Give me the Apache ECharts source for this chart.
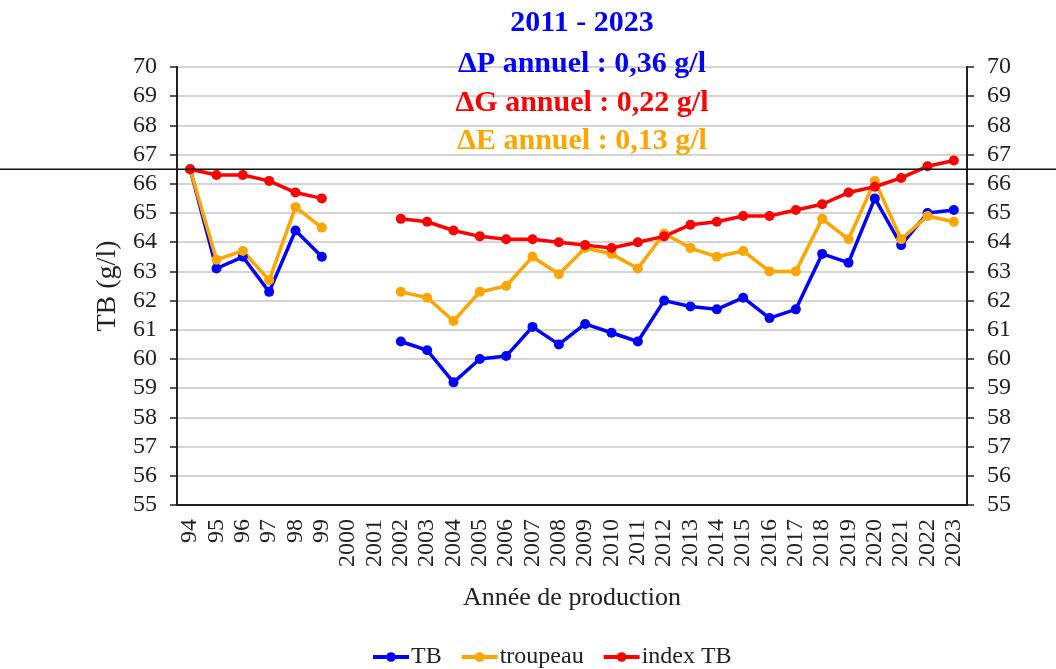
<!DOCTYPE html>
<html>
<head>
<meta charset="utf-8">
<script src="https://cdn.jsdelivr.net/npm/echarts@6/dist/echarts.min.js"></script>
<style>
  html, body { margin: 0; padding: 0; background: #fff; }
  #chart { width: 1056px; height: 669px; }
</style>
</head>
<body>
<div id="chart"></div>
<script>
var years = ['94', '95', '96', '97', '98', '99', '2000', '2001', '2002', '2003', '2004', '2005',
  '2006', '2007', '2008', '2009', '2010', '2011', '2012', '2013', '2014', '2015', '2016',
  '2017', '2018', '2019', '2020', '2021', '2022', '2023'];

var tb = [66.5, 63.1, 63.5, 62.3, 64.4, 63.5, null, null, 60.6, 60.3, 59.2, 60.0,
  60.1, 61.1, 60.5, 61.2, 60.9, 60.6, 62.0, 61.8, 61.7, 62.1, 61.4,
  61.7, 63.6, 63.3, 65.5, 63.9, 65.0, 65.1];

var troupeau = [66.5, 63.4, 63.7, 62.7, 65.2, 64.5, null, null, 62.3, 62.1, 61.3, 62.3,
  62.5, 63.5, 62.9, 63.8, 63.6, 63.1, 64.3, 63.8, 63.5, 63.7, 63.0,
  63.0, 64.8, 64.1, 66.1, 64.1, 64.9, 64.7];

var indexTb = [66.5, 66.3, 66.3, 66.1, 65.7, 65.5, null, null, 64.8, 64.7, 64.4, 64.2,
  64.1, 64.1, 64.0, 63.9, 63.8, 64.0, 64.2, 64.6, 64.7, 64.9, 64.9,
  65.1, 65.3, 65.7, 65.9, 66.2, 66.6, 66.8];

var headerLines = ['2011 - 2023', '\u0394P annuel : 0,36 g/l', '\u0394G annuel : 0,22 g/l', '\u0394E annuel : 0,13 g/l'];
var refLevel = 66.5;

var serif = '"Liberation Serif", "Times New Roman", serif';
var colors = ['#0000ff', '#ff0000', '#ffa500'];

var chart = echarts.init(document.getElementById('chart'));

function lineSeries(name, data, color) {
  return {
    name: name,
    type: 'line',
    data: data,
    connectNulls: false,
    symbol: 'circle',
    symbolSize: 10,
    itemStyle: { color: color },
    lineStyle: { color: color, width: 3.5 },
    emphasis: { disabled: true }
  };
}

function yAxisDef(pos) {
  return {
    type: 'value',
    position: pos,
    min: 55,
    max: 70,
    interval: 1,
    axisLine: { show: true, lineStyle: { color: '#222', width: 2 } },
    axisTick: { show: true, length: 7, lineStyle: { color: '#222', width: 1.5 } },
    axisLabel: { color: '#222', fontFamily: serif, fontSize: 24, margin: 20 },
    splitLine: { show: pos === 'left', lineStyle: { color: '#d4d4d4', width: 2 } }
  };
}

var option = {
  animation: false,
  backgroundColor: '#fff',
  grid: { left: 177, right: 89, top: 67, bottom: 164, containLabel: false },
  legend: {
    top: 640,
    left: 366,
    itemWidth: 36,
    itemHeight: 12,
    itemGap: 18,
    lineStyle: { width: 4 },
    textStyle: { color: '#222', fontFamily: serif, fontSize: 24, padding: [0, 0, 0, -3] },
    data: ['TB', 'troupeau', 'index TB']
  },
  xAxis: {
    type: 'category',
    data: years,
    boundaryGap: true,
    name: 'Ann\u00e9e de production',
    nameLocation: 'middle',
    nameGap: 80,
    nameTextStyle: { color: '#222', fontFamily: serif, fontSize: 26 },
    axisLine: { lineStyle: { color: '#222', width: 2 } },
    axisTick: { show: false },
    axisLabel: { rotate: 90, interval: 0, color: '#222', fontFamily: serif, fontSize: 24, margin: 14 }
  },
  yAxis: [
    Object.assign(yAxisDef('left'), {
      name: 'TB (g/l)',
      nameLocation: 'middle',
      nameGap: 53,
      nameTextStyle: { color: '#222', fontFamily: serif, fontSize: 28 }
    }),
    yAxisDef('right')
  ],
  series: [
    lineSeries('TB', tb, colors[0]),
    lineSeries('troupeau', troupeau, colors[2]),
    lineSeries('index TB', indexTb, colors[1])
  ]
};

chart.setOption(option);

// header texts and the full-width reference line
var headerColors = [colors[0], colors[0], colors[1], colors[2]];
var headerY = [23, 64, 103, 141];
var graphics = headerLines.map(function (t, i) {
  return {
    type: 'text',
    x: 582,
    y: headerY[i],
    z: 10,
    style: {
      text: t,
      fill: headerColors[i],
      font: 'bold 30px ' + serif,
      align: 'center',
      verticalAlign: 'middle'
    }
  };
});
var refY = chart.convertToPixel({ yAxisIndex: 0 }, refLevel);
graphics.push({
  type: 'line',
  z: 5,
  shape: { x1: 0, y1: refY, x2: 1056, y2: refY },
  style: { stroke: '#111', lineWidth: 1.5 }
});
chart.setOption({ graphic: graphics });
</script>
</body>
</html>
